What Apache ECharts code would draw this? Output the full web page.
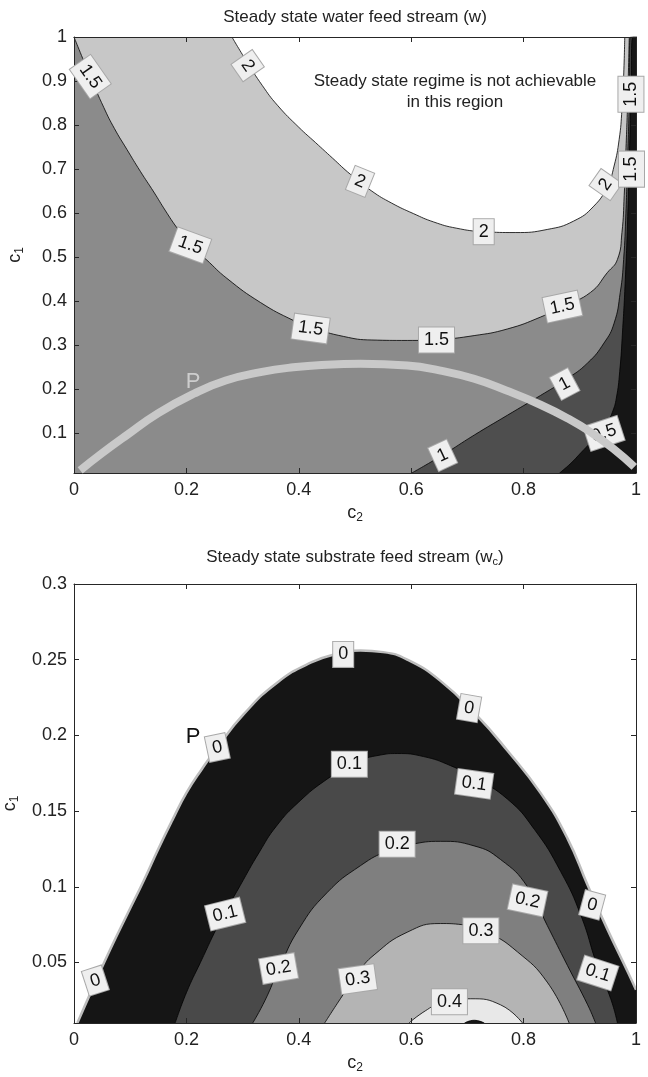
<!DOCTYPE html>
<html>
<head>
<meta charset="utf-8">
<script src="https://cdn.jsdelivr.net/npm/echarts@6/dist/echarts.min.js"></script>
<style>
  html, body { margin: 0; padding: 0; background: #fff; }
  #chart { width: 648px; height: 1077px; }
</style>
</head>
<body>
<div id="chart"></div>
<script>
// ---- top panel: steady state water feed stream (w), contours as [c2, c1] ----
const wLevel2 = [[0.281, 1.0], [0.307, 0.945], [0.335, 0.89], [0.362, 0.845], [0.40, 0.795], [0.43, 0.76],
  [0.46, 0.725], [0.492, 0.688], [0.53, 0.65], [0.565, 0.623], [0.604, 0.599], [0.64, 0.58], [0.68, 0.566],
  [0.729, 0.558], [0.785, 0.556], [0.842, 0.563], [0.889, 0.582], [0.925, 0.616], [0.949, 0.661],
  [0.961, 0.707], [0.970, 0.767], [0.975, 0.835], [0.978, 0.91], [0.980, 1.0]];
const wLevel15 = [[0, 1.0], [0.029, 0.91], [0.053, 0.84], [0.072, 0.792], [0.094, 0.745], [0.118, 0.695],
  [0.142, 0.648], [0.163, 0.605], [0.183, 0.567], [0.207, 0.527], [0.235, 0.495], [0.272, 0.452],
  [0.332, 0.397], [0.391, 0.356], [0.421, 0.341], [0.48, 0.32], [0.53, 0.312], [0.593, 0.311], [0.646, 0.313],
  [0.712, 0.322], [0.771, 0.337], [0.83, 0.364], [0.872, 0.39], [0.919, 0.42], [0.949, 0.465], [0.967, 0.495],
  [0.975, 0.556], [0.979, 0.64], [0.982, 0.74], [0.985, 0.85], [0.988, 1.0]];
const wLevel1 = [[0.601, 0.01], [0.655, 0.05], [0.712, 0.096], [0.771, 0.141], [0.83, 0.186], [0.875, 0.222],
  [0.914, 0.26], [0.943, 0.305], [0.961, 0.35], [0.972, 0.42], [0.978, 0.495], [0.982, 0.6], [0.985, 0.72],
  [0.988, 0.85], [0.990, 1.0]];
const wLevel05 = [[0.864, 0.01], [0.884, 0.032], [0.902, 0.056], [0.92, 0.08], [0.935, 0.1], [0.948, 0.122],
  [0.958, 0.148], [0.965, 0.18], [0.971, 0.24], [0.976, 0.33], [0.981, 0.45], [0.985, 0.58], [0.988, 0.72],
  [0.991, 0.86], [0.994, 1.0]];
const wPathP = [[0.011, 0.016], [0.05, 0.055], [0.094, 0.096], [0.15, 0.146], [0.213, 0.19], [0.27, 0.22],
  [0.332, 0.239], [0.39, 0.25], [0.45, 0.256], [0.51, 0.258], [0.593, 0.254], [0.65, 0.243], [0.712, 0.224],
  [0.77, 0.197], [0.83, 0.165], [0.88, 0.133], [0.919, 0.103], [0.96, 0.065], [0.997, 0.024]];
const wLabelText = ['1.5', '2', '2', '2', '2', '1.5', '1.5', '1.5', '1.5', '1.5', '1.5', '1', '1', '0.5'];
const wLabelPos = [[0.029, 0.91], [0.309, 0.935], [0.509, 0.672], [0.729, 0.558], [0.946, 0.665],
  [0.991, 0.87], [0.992, 0.70], [0.207, 0.527], [0.421, 0.338], [0.645, 0.312], [0.869, 0.388],
  [0.873, 0.212], [0.656, 0.05], [0.943, 0.1]];
const wLabelAngle = [-55, -55, -22, 0, 55, 90, 90, -20, -8, 0, 12, 28, 25, 18];

// ---- bottom panel: steady state substrate feed stream (wc) ----
const cLevel0 = [[0.006, 0.01], [0.038, 0.037], [0.065, 0.059], [0.095, 0.082], [0.124, 0.104], [0.15, 0.125],
  [0.175, 0.144], [0.2, 0.162], [0.228, 0.178], [0.255, 0.192], [0.302, 0.214], [0.362, 0.235], [0.421, 0.248],
  [0.47, 0.254], [0.51, 0.256], [0.55, 0.255], [0.593, 0.25], [0.652, 0.236], [0.717, 0.213], [0.771, 0.19],
  [0.83, 0.162], [0.878, 0.132], [0.914, 0.101], [0.949, 0.072], [0.985, 0.044], [1.0, 0.032]];
const cLevel01 = [[0.18, 0.01], [0.2, 0.03], [0.225, 0.05], [0.26, 0.077], [0.296, 0.101], [0.33, 0.123],
  [0.36, 0.14], [0.40, 0.156], [0.45, 0.171], [0.5, 0.182], [0.545, 0.187], [0.575, 0.188], [0.622, 0.186],
  [0.67, 0.18], [0.712, 0.172], [0.771, 0.158], [0.819, 0.138], [0.866, 0.11], [0.902, 0.081], [0.931, 0.048],
  [0.955, 0.026], [0.967, 0.01]];
const cLevel02 = [[0.318, 0.01], [0.34, 0.025], [0.365, 0.046], [0.4, 0.072], [0.45, 0.096], [0.51, 0.114],
  [0.56, 0.124], [0.6, 0.128], [0.652, 0.13], [0.712, 0.127], [0.759, 0.118], [0.807, 0.1], [0.842, 0.0745],
  [0.878, 0.048], [0.914, 0.022], [0.928, 0.01]];
const cLevel03 = [[0.446, 0.01], [0.474, 0.026], [0.505, 0.043], [0.534, 0.055], [0.593, 0.07], [0.652, 0.0757],
  [0.69, 0.075], [0.735, 0.07], [0.789, 0.057], [0.842, 0.037], [0.881, 0.01]];
const cLevel04 = [[0.596, 0.01], [0.625, 0.018], [0.652, 0.023], [0.706, 0.026], [0.759, 0.022], [0.798, 0.01]];
const cLevel05 = [[0.695, 0.01], [0.712, 0.0118], [0.73, 0.01]];
const cLabelText = ['0', '0', '0', '0', '0', '0.1', '0.1', '0.1', '0.1', '0.2', '0.2', '0.2', '0.3', '0.3', '0.4'];
const cLabelPos = [[0.479, 0.2535], [0.703, 0.218], [0.255, 0.192], [0.038, 0.038], [0.922, 0.088],
  [0.49, 0.181], [0.712, 0.168], [0.269, 0.082], [0.932, 0.043], [0.575, 0.128], [0.807, 0.091],
  [0.364, 0.046], [0.724, 0.071], [0.505, 0.039], [0.668, 0.024]];
const cLabelAngle = [0, -10, 12, 18, -15, 0, -8, 14, -18, 0, -12, 10, 0, 8, 0];

// ticks
const xTicks = [0, 0.2, 0.4, 0.6, 0.8, 1];
const wTicks = [0.1, 0.2, 0.3, 0.4, 0.5, 0.6, 0.7, 0.8, 0.9, 1];
const cTicks = [0.05, 0.1, 0.15, 0.2, 0.25, 0.3];

const FONT = '"Liberation Sans", Arial, Helvetica, sans-serif';
const AX = '#262626';
const W_RANGE = [0.01, 1];
const C_RANGE = [0.01, 0.3];

function contour(idx, data, fill, origin, stroke, width, z) {
  return {
    type: 'line', xAxisIndex: idx, yAxisIndex: idx, data: data,
    symbol: 'none', smooth: 0.5,
    lineStyle: { color: stroke, width: width },
    areaStyle: { color: fill, opacity: 1, origin: origin },
    z: z, silent: true, animation: false
  };
}

// clabel-style boxes sitting on the contours, placed through the axes with api.coord
function labels(idx, text, pos, angle) {
  return {
    type: 'custom', xAxisIndex: idx, yAxisIndex: idx, z: 6, silent: true, animation: false, clip: false,
    data: pos,
    encode: { x: 0, y: 1 },
    renderItem: (params, api) => {
      const p = api.coord([api.value(0), api.value(1)]);
      return {
        type: 'text', x: p[0], y: p[1],
        rotation: angle[params.dataIndex] * Math.PI / 180,
        style: {
          text: text[params.dataIndex], font: '18px ' + FONT, fill: '#111',
          align: 'center', verticalAlign: 'middle',
          backgroundColor: '#efefef', borderColor: '#a8a8a8', borderWidth: 1, padding: [4, 5, 3, 5]
        }
      };
    }
  };
}

const subRich = {
  i: { fontFamily: FONT, fontSize: 18, color: '#222' },
  s: { fontFamily: FONT, fontSize: 12, color: '#222', padding: [10, 0, 0, 0] }
};

function xAxes(grid) {
  const base = {
    gridIndex: grid, type: 'value', min: 0, max: 1, z: 5,
    axisLine: { show: true, onZero: false, lineStyle: { color: AX, width: 1 } },
    axisTick: { show: true, inside: true, length: 5, customValues: xTicks, lineStyle: { color: AX } },
    splitLine: { show: false }
  };
  return [
    Object.assign({}, base, {
      position: 'bottom',
      axisLabel: { customValues: xTicks, fontFamily: FONT, fontSize: 18, color: '#222', margin: 8 },
      name: '{i|c}{s|2}', nameLocation: 'middle', nameGap: 29,
      nameTextStyle: { rich: subRich }
    }),
    Object.assign({}, base, { position: 'top', axisLabel: { show: false } })
  ];
}

function yAxes(grid, range, ticks) {
  const base = {
    gridIndex: grid, type: 'value', min: range[0], max: range[1], z: 5,
    axisLine: { show: true, onZero: false, lineStyle: { color: AX, width: 1 } },
    axisTick: { show: true, inside: true, length: 5, customValues: ticks, lineStyle: { color: AX } },
    splitLine: { show: false }
  };
  return [
    Object.assign({}, base, {
      position: 'left',
      axisLabel: { customValues: ticks, fontFamily: FONT, fontSize: 18, color: '#222', margin: 7 },
      name: '{i|c}{s|1}', nameLocation: 'middle', nameGap: 48, nameRotate: 90,
      nameTextStyle: { rich: subRich }
    }),
    Object.assign({}, base, { position: 'right', axisLabel: { show: false } })
  ];
}

// closes a contour along the top-right corner so the band below it is filled up to the right edge
const closeRight = (data, range) => data.concat([[1, range[1]]]);

const chart = echarts.init(document.getElementById('chart'));
chart.setOption({
  animation: false,
  backgroundColor: '#fff',
  grid: [
    { left: 74, top: 37, width: 562, height: 436, show: true, backgroundColor: '#8b8b8b', borderWidth: 0,
      outerBoundsMode: 'none', containLabel: false },
    { left: 74, top: 584, width: 562, height: 439, outerBoundsMode: 'none', containLabel: false }
  ],
  xAxis: xAxes(0).concat(xAxes(1)).map((a, i) => Object.assign(a, { gridIndex: i < 2 ? 0 : 1 })),
  yAxis: yAxes(0, W_RANGE, wTicks).concat(yAxes(1, C_RANGE, cTicks)),
  series: [
    // top panel, index 0 (bottom x / left y)
    contour(0, wLevel15, '#c7c7c7', 'end', '#000', 0.8, 2),
    contour(0, wLevel2, '#ffffff', 'end', '#000', 0.8, 2),
    contour(0, closeRight(wLevel1, W_RANGE), '#4e4e4e', 'start', '#000', 0.8, 2),
    contour(0, closeRight(wLevel05, W_RANGE), '#161616', 'start', '#000', 0.8, 2),
    labels(0, wLabelText, wLabelPos, wLabelAngle),
    {
      type: 'line', xAxisIndex: 0, yAxisIndex: 0, data: wPathP, symbol: 'none',
      smooth: 0.5, lineStyle: { color: '#c9c9c9', width: 8 }, z: 7, silent: true, animation: false
    },
    // bottom panel, index 2
    contour(2, cLevel0, '#151515', 'start', '#bdbdbd', 2.5, 2),
    contour(2, cLevel01, '#494949', 'start', '#000', 0.8, 2),
    contour(2, cLevel02, '#7f7f7f', 'start', '#000', 0.8, 2),
    contour(2, cLevel03, '#b4b4b4', 'start', '#000', 0.8, 2),
    contour(2, cLevel04, '#e8e8e8', 'start', '#000', 0.8, 2),
    contour(2, cLevel05, '#151515', 'start', '#000', 0.8, 2),
    labels(2, cLabelText, cLabelPos, cLabelAngle)
  ],
  graphic: [
    { type: 'text', x: 355, y: 17, z: 10,
      style: { text: 'Steady state water feed stream (w)', font: '17px ' + FONT, fill: '#222', align: 'center', verticalAlign: 'middle' } },
    { type: 'text', x: 355, y: 557, z: 10,
      style: { text: '{t|Steady state substrate feed stream (w}{s|c}{t|)}', align: 'center', verticalAlign: 'middle',
        rich: { t: { fontFamily: FONT, fontSize: 17, fill: '#222' }, s: { fontFamily: FONT, fontSize: 11, fill: '#222', padding: [9, 0, 0, 0] } } } },
    { type: 'text', x: 455, y: 92, z: 10,
      style: { text: 'Steady state regime is not achievable\nin this region', font: '17px ' + FONT, fill: '#222',
        align: 'center', verticalAlign: 'middle', lineHeight: 21 } },
    { type: 'text', x: 193, y: 382, z: 10,
      style: { text: 'P', font: '22px ' + FONT, fill: '#cdcdcd', align: 'center', verticalAlign: 'middle' } },
    { type: 'text', x: 193, y: 737, z: 10,
      style: { text: 'P', font: '22px ' + FONT, fill: '#111', align: 'center', verticalAlign: 'middle' } }
  ]
});
</script>
</body>
</html>
